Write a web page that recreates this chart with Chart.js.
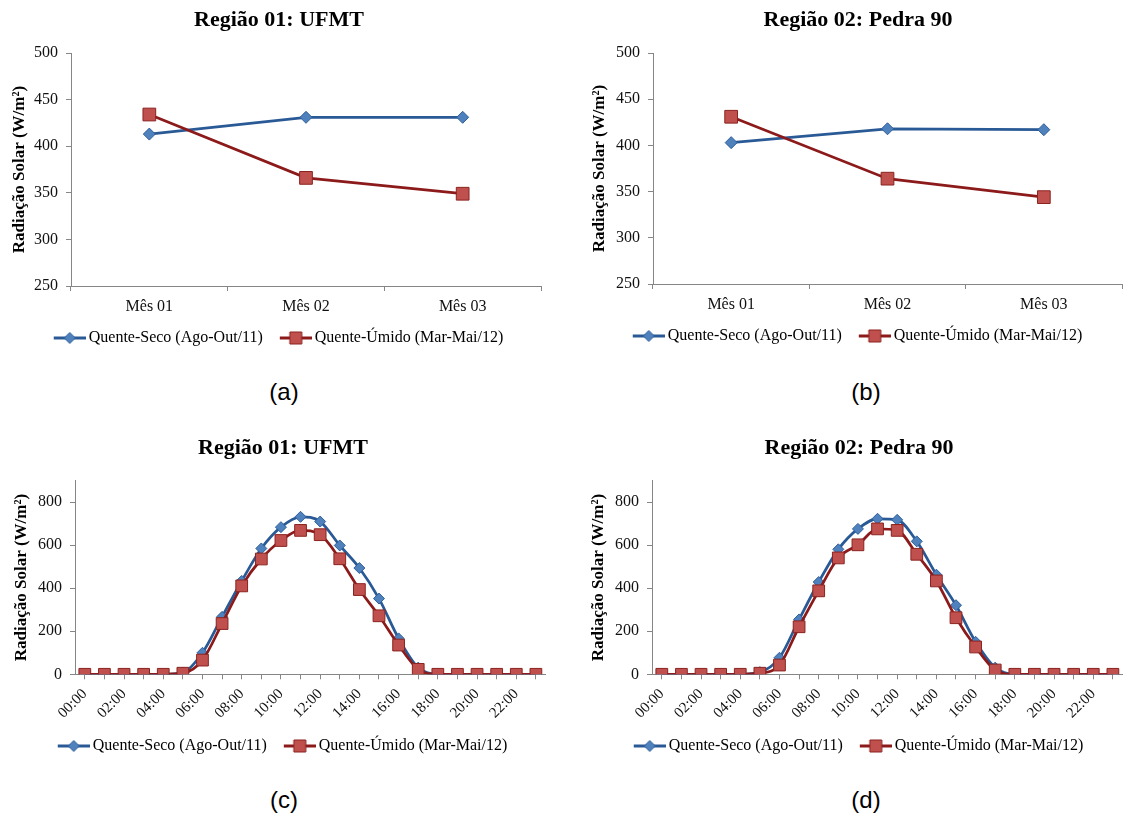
<!DOCTYPE html>
<html lang="pt">
<head>
<meta charset="utf-8">
<title>Radiação Solar</title>
<script src="https://cdn.jsdelivr.net/npm/chart.js@4.4.1/dist/chart.umd.min.js"></script>
<style>
  body { margin: 0; width: 1128px; height: 817px; overflow: hidden; background: #fff; position: relative; }
  canvas { position: absolute; }
  .cap { position: absolute; font-family: 'Liberation Sans', Arial, sans-serif; font-size: 24px; color: #000; transform: translate(-50%, -50%); }
</style>
</head>
<body>
<canvas id="chartA" width="544" height="356" style="left:7px;top:0px"></canvas>
<canvas id="chartB" width="546" height="354" style="left:586px;top:0px"></canvas>
<canvas id="chartC" width="544" height="334" style="left:11px;top:430px"></canvas>
<canvas id="chartD" width="546" height="334" style="left:586px;top:430px"></canvas>
<div class="cap" style="left:284px;top:392px">(a)</div>
<div class="cap" style="left:866px;top:392px">(b)</div>
<div class="cap" style="left:284px;top:800px">(c)</div>
<div class="cap" style="left:866px;top:800px">(d)</div>
<script>
// dados
const meses = ['Mês 01', 'Mês 02', 'Mês 03'];
const horas = ['00:00', '01:00', '02:00', '03:00', '04:00', '05:00', '06:00', '07:00',
  '08:00', '09:00', '10:00', '11:00', '12:00', '13:00', '14:00', '15:00',
  '16:00', '17:00', '18:00', '19:00', '20:00', '21:00', '22:00', '23:00'];

// (a) Região 01 - mensal
const secoUfmtMes = [413, 431, 431];
const umidoUfmtMes = [434, 366, 349];
// (b) Região 02 - mensal
const secoPedraMes = [403, 418, 417];
const umidoPedraMes = [431, 364, 344];
// (c) Região 01 - horário
const secoUfmtHora = [0, 0, 0, 0, 0, 8, 100, 267, 434, 585, 684, 732, 710, 599, 494, 352, 167, 31, 0, 0, 0, 0, 0, 0];
const umidoUfmtHora = [0, 0, 0, 0, 0, 5, 66, 236, 411, 536, 622, 669, 649, 537, 394, 272, 136, 23, 0, 0, 0, 0, 0, 0];
// (d) Região 02 - horário
const secoPedraHora = [0, 0, 0, 0, 0, 10, 77, 255, 429, 581, 676, 723, 718, 618, 463, 321, 151, 31, 0, 0, 0, 0, 0, 0];
const umidoPedraHora = [0, 0, 0, 0, 0, 5, 43, 221, 388, 541, 602, 676, 669, 558, 434, 263, 127, 20, 0, 0, 0, 0, 0, 0];

const nomeSeco = 'Quente-Seco (Ago-Out/11)';
const nomeUmido = 'Quente-Úmido (Mar-Mai/12)';

const SERIF = "'Liberation Serif', 'Times New Roman', serif";
const AXIS = '#868686';
const BLUE_LINE = '#2A5A96', BLUE_FILL = '#4F81BD', BLUE_EDGE = '#2E5E99';
const RED_LINE = '#8C1A1A', RED_FILL = '#C0504D', RED_EDGE = '#8A2320';

// ícone da legenda: linha com marcador no meio (36 px, linha de 4 a 36)
function legendIcon(line, fill, edge, diamond, r) {
  const c = document.createElement('canvas');
  c.width = 36; c.height = 18;
  const g = c.getContext('2d');
  g.strokeStyle = line; g.lineWidth = 3;
  g.beginPath(); g.moveTo(4, 9); g.lineTo(36, 9); g.stroke();
  g.fillStyle = fill; g.strokeStyle = edge; g.lineWidth = 1;
  g.beginPath();
  if (diamond) {
    g.moveTo(20, 9 - r); g.lineTo(20 + r, 9); g.lineTo(20, 9 + r); g.lineTo(20 - r, 9); g.closePath();
  } else {
    g.rect(20 - r, 9 - r, 2 * r, 2 * r);
  }
  g.fill(); g.stroke();
  return c;
}
const iconSeco = legendIcon(BLUE_LINE, BLUE_FILL, BLUE_EDGE, true, 5.5);
const iconUmido = legendIcon(RED_LINE, RED_FILL, RED_EDGE, false, 6);

function makeChart(id, o) {
  const xTicks = { font: { family: SERIF, size: o.hourly ? 15 : 16 }, color: '#111', padding: 6, autoSkip: false,
    maxRotation: o.hourly ? 45 : 0, minRotation: o.hourly ? 45 : 0 };
  if (o.hourly) {
    xTicks.callback = function(v, i) { return i % 2 === 0 ? this.getLabelForValue(v) : ''; };
  }
  return new Chart(document.getElementById(id), {
    type: 'line',
    data: {
      labels: o.labels,
      datasets: [
        {
          label: nomeSeco, data: o.seco, order: 2,
          borderColor: BLUE_LINE, borderWidth: 2.75,
          pointStyle: 'rectRot', pointRadius: o.hourly ? 5.5 : 6,
          pointBackgroundColor: BLUE_FILL, pointBorderColor: BLUE_EDGE, pointBorderWidth: 1,
          cubicInterpolationMode: o.hourly ? 'monotone' : 'default', tension: 0
        },
        {
          label: nomeUmido, data: o.umido, order: 1,
          borderColor: RED_LINE, borderWidth: 2.75,
          pointStyle: 'rect', pointRadius: o.hourly ? 8.3 : 9,
          pointBackgroundColor: RED_FILL, pointBorderColor: RED_EDGE, pointBorderWidth: 1,
          cubicInterpolationMode: o.hourly ? 'monotone' : 'default', tension: 0
        }
      ]
    },
    options: {
      responsive: false,
      animation: false,
      devicePixelRatio: 1,
      layout: { padding: { left: 0, right: o.padRight, top: 0, bottom: 0 } },
      plugins: {
        title: {
          display: true, text: o.title, color: '#000',
          font: { family: SERIF, size: 22, weight: 'bold' },
          padding: { top: o.titleTop, bottom: o.titleBottom }
        },
        legend: {
          position: 'bottom',
          labels: {
            usePointStyle: true, pointStyleWidth: 26, padding: 18,
            font: { family: SERIF, size: 16 }, color: '#111',
            generateLabels: () => [
              { text: nomeSeco, pointStyle: iconSeco, datasetIndex: 0, hidden: false, lineWidth: 0, fillStyle: 'transparent', strokeStyle: 'transparent' },
              { text: nomeUmido, pointStyle: iconUmido, datasetIndex: 1, hidden: false, lineWidth: 0, fillStyle: 'transparent', strokeStyle: 'transparent' }
            ]
          }
        },
        tooltip: { enabled: false }
      },
      scales: {
        x: {
          offset: true,
          grid: { offset: !o.hourly, drawOnChartArea: false, drawTicks: true, tickLength: 5, color: AXIS, lineWidth: 1 },
          border: { color: AXIS, width: 1 },
          ticks: xTicks,
          afterFit: s => { s.height = o.xHeight; }
        },
        y: {
          min: o.yMin, max: o.yMax,
          ticks: { stepSize: o.yStep, includeBounds: false, font: { family: SERIF, size: 16 }, color: '#111', padding: 8 },
          grid: { drawOnChartArea: false, drawTicks: true, tickLength: 5, color: AXIS, lineWidth: 1 },
          border: { color: AXIS, width: 1 },
          title: {
            display: true, text: 'Radiação Solar (W/m²)', color: '#000',
            font: { family: SERIF, size: 17, weight: 'bold' },
            padding: { top: o.yTitlePad, bottom: 0 }
          },
          afterFit: s => { s.width = o.yWidth; }
        }
      }
    }
  });
}

makeChart('chartA', { labels: meses, seco: secoUfmtMes, umido: umidoUfmtMes, title: 'Região 01: UFMT',
  yMin: 250, yMax: 500, yStep: 50, yWidth: 64, yTitlePad: 2.8, xHeight: 26, padRight: 0, titleTop: 7, titleBottom: 19.6 });
makeChart('chartB', { labels: meses, seco: secoPedraMes, umido: umidoPedraMes, title: 'Região 02: Pedra 90',
  yMin: 250, yMax: 500, yStep: 50, yWidth: 67, yTitlePad: 3.8, xHeight: 26, padRight: 2, titleTop: 7, titleBottom: 19.6 });
makeChart('chartC', { labels: horas, seco: secoUfmtHora, umido: umidoUfmtHora, title: 'Região 01: UFMT', hourly: true,
  yMin: 0, yMax: 900, yStep: 200, yWidth: 64, yTitlePad: 0.8, xHeight: 45.7, padRight: 0, titleTop: 4.8, titleBottom: 19.5 });
makeChart('chartD', { labels: horas, seco: secoPedraHora, umido: umidoPedraHora, title: 'Região 02: Pedra 90', hourly: true,
  yMin: 0, yMax: 900, yStep: 200, yWidth: 66, yTitlePad: 2.8, xHeight: 45.7, padRight: 0, titleTop: 4.8, titleBottom: 19.5 });
</script>
</body>
</html>
